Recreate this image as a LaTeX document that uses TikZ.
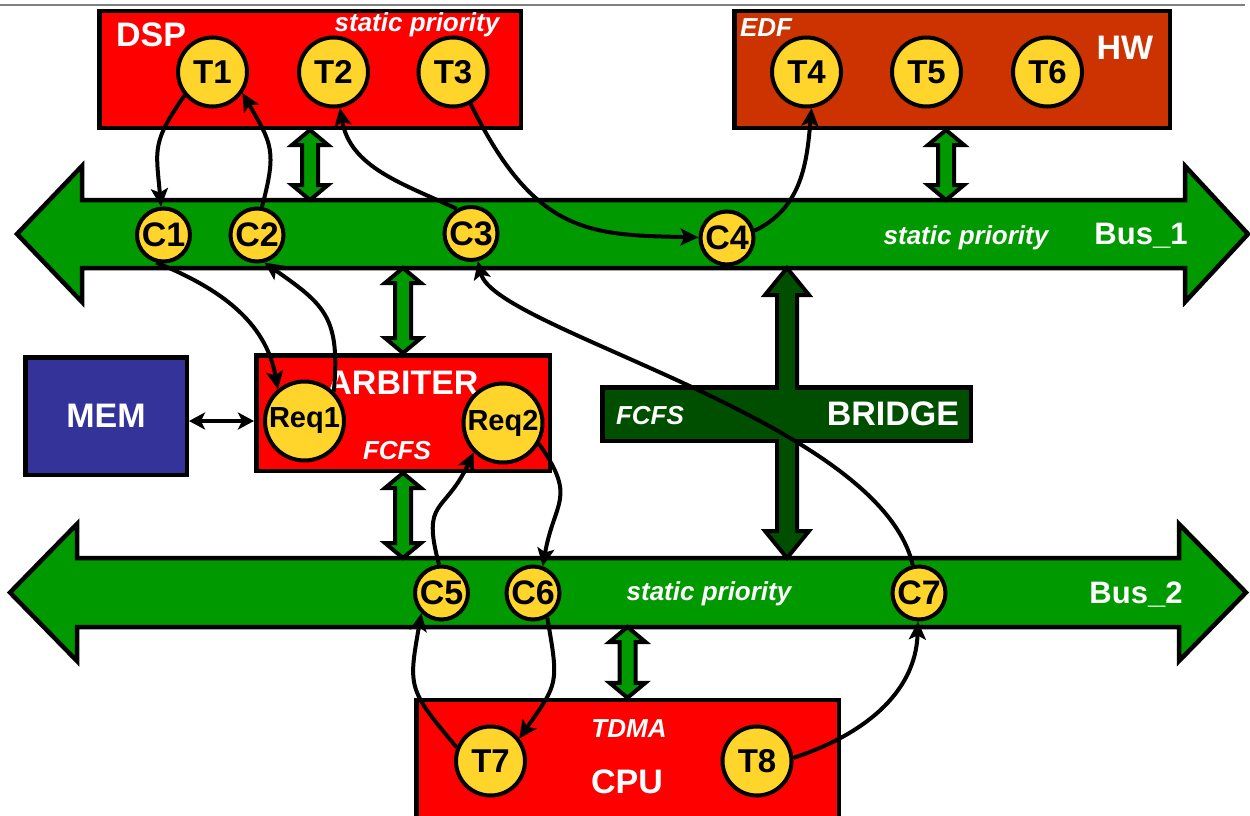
\documentclass[tikz,border=0pt]{standalone}
\usepackage{fontspec}
\setmainfont{Liberation Sans}
\usetikzlibrary{arrows.meta,shapes.geometric,calc}

\definecolor{taskyellow}{HTML}{FFD52B}
\definecolor{unitred}{HTML}{FF0000}
\definecolor{hwred}{HTML}{CC3300}
\definecolor{busgreen}{HTML}{009900}
\definecolor{bridgegreen}{HTML}{004F00}
\definecolor{memblue}{HTML}{333399}

% two-headed block arrow from #2 (top) down to #3 (bottom)
% #1 style, #4 half shaft width, #5 half head width, #6 head length
\newcommand{\vlink}[6]{%
  \draw[#1] (#2) -- ++(#5,#6) -- ++({#4-#5},0) -- ($(#3)+(#4,-#6)$)
    -- ++({#5-#4},0) -- (#3) -- ++(-#5,-#6) -- ++({#5-#4},0)
    -- ($(#2)+(-#4,#6)$) -- ++({#4-#5},0) -- cycle;}

\begin{document}
\begin{tikzpicture}[x=1pt, y=-1pt,
    unit/.style={draw, rectangle, line width=4.5pt, inner sep=0pt},
    task/.style={draw, circle, line width=4pt, fill=taskyellow, minimum size=69pt, inner sep=0pt, font=\fontsize{33}{33}\selectfont\bfseries},
    chan/.style={task, minimum size=53pt, font=\fontsize{34}{34}\selectfont\bfseries},
    req/.style={task, minimum size=79pt, font=\fontsize{29}{29}\selectfont\bfseries},
    unitname/.style={text=white, inner sep=0pt, font=\fontsize{34}{34}\selectfont\bfseries},
    busname/.style={text=white, inner sep=0pt, font=\fontsize{31}{31}\selectfont\bfseries},
    policy/.style={text=white, inner sep=0pt, font=\fontsize{26}{26}\selectfont\bfseries\itshape},
    busbody/.style={rectangle, inner sep=0pt, outer sep=0pt},
    busline/.style={draw, line width=4.5pt, fill=busgreen},
    link/.style={draw, line width=4pt, fill=busgreen},
    bridgelink/.style={draw, line width=4pt, fill=bridgegreen},
    arr/.style={draw, line width=4pt, -{Stealth[length=18pt,width=17pt,inset=4pt]}},
    memarr/.style={draw, line width=4pt, {Stealth[length=16pt,width=17pt,inset=4pt]}-{Stealth[length=16pt,width=17pt,inset=4pt]}}]

  \useasboundingbox (0,0) rectangle (1250,816);
  \clip (0,0) rectangle (1250,816);
  \draw[gray, line width=1.5pt] (0,5) -- (1245,5);

  % buses
  \node[busbody, minimum width=1103pt, minimum height=68pt] (bus1) at (633.5,234) {};
  \node[busbody, minimum width=1102pt, minimum height=69pt] (bus2) at (628,592.5) {};
  \draw[busline] (bus1.north west) -- (bus1.north east) -- ++(0,-34) -- ([xshift=63pt]bus1.east)
    -- ([yshift=-34pt]bus1.south east) -- (bus1.south east) -- (bus1.south west) -- ++(0,34)
    -- ([xshift=-65pt]bus1.west) -- ([yshift=34pt]bus1.north west) -- cycle;
  \draw[busline] (bus2.north west) -- (bus2.north east) -- ++(0,-34) -- ([xshift=67pt]bus2.east)
    -- ([yshift=-34pt]bus2.south east) -- (bus2.south east) -- (bus2.south west) -- ++(0,34)
    -- ([xshift=-67pt]bus2.west) -- ([yshift=34pt]bus2.north west) -- cycle;

  % bridge arrow between the buses
  \coordinate (brx) at (787,0);
  \vlink{bridgelink}{brx |- bus1.south}{brx |- bus2.north}{10}{22}{27}

  % processing units
  \node[unit, fill=unitred, minimum width=421.5pt, minimum height=116.5pt] (dsp) at (310,69.5) {};
  \node[unit, fill=hwred, minimum width=435.5pt, minimum height=116.5pt] (hw) at (952,69.5) {};
  \node[unit, fill=memblue, minimum width=161.5pt, minimum height=117.5pt] (mem) at (106,416) {};
  \node[unit, fill=unitred, minimum width=293.5pt, minimum height=115.5pt] (arbiter) at (403,413) {};
  \node[unit, fill=bridgegreen, minimum width=368.5pt, minimum height=53.5pt] (bridge) at (786.5,414) {};
  \node[unit, fill=unitred, minimum width=422.5pt, minimum height=140pt] (cpu) at (627.5,770) {};
  \fill[bridgegreen] ($(brx |- bridge.north)+(-8,-2)$) rectangle ($(brx |- bridge.south)+(8,2)$);

  % bus links
  \coordinate (hwlink) at ([xshift=-6pt]hw.south);
  \vlink{link}{dsp.south}{dsp.south |- bus1.north}{8}{18}{15}
  \vlink{link}{hwlink}{hwlink |- bus1.north}{8}{18}{15}
  \vlink{link}{arbiter.north |- bus1.south}{arbiter.north}{8}{18}{15}
  \vlink{link}{arbiter.south}{arbiter.south |- bus2.north}{8}{18}{15}
  \vlink{link}{cpu.north |- bus2.south}{cpu.north}{8}{18}{15}

  % names and policies
  \node[unitname] (dspname) at (151,35) {DSP};
  \node[policy] (dsppol) at (417,25) {static priority};
  \node[policy] (hwpol) at (766,28) {EDF};
  \node[unitname] (hwname) at (1125,48) {HW};
  \node[unitname] (memname) at (106,416) {MEM};
  \node[unitname] (arbname) at (403,383) {ARBITER};
  \node[policy] (arbpol) at (397,451) {FCFS};
  \node[policy] (brpol) at (650,416) {FCFS};
  \node[unitname] (brname) at (893,414) {BRIDGE};
  \node[policy] (cpupol) at (629,729) {TDMA};
  \node[unitname] (cpuname) at (627,782) {CPU};
  \node[busname] (bus1name) at (1141,236) {Bus\_1};
  \node[policy] (bus1pol) at (966,238) {static priority};
  \node[busname] (bus2name) at (1136,595) {Bus\_2};
  \node[policy] (bus2pol) at (709,594) {static priority};

  % tasks
  \node[task] (t1) at (212.5,72) {T1};
  \node[task] (t2) at (333.5,72) {T2};
  \node[task] (t3) at (453,72) {T3};
  \node[task] (t4) at (806.5,72) {T4};
  \node[task] (t5) at (926.5,72) {T5};
  \node[task] (t6) at (1047.5,72) {T6};
  \node[task] (t7) at (490.5,761) {T7};
  \node[task] (t8) at (757,761) {T8};

  % communication tasks
  \node[chan] (c1) at (163.5,235) {C1};
  \node[chan] (c2) at (257,235) {C2};
  \node[chan] (c3) at (471,233.5) {C3};
  \node[chan] (c4) at (727,238) {C4};
  \node[chan] (c5) at (441.5,593) {C5};
  \node[chan] (c6) at (533,593) {C6};
  \node[chan] (c7) at (919,593) {C7};

  % arbiter requests
  \node[req] (req1) at (304.5,421) {Req1};
  \node[req] (req2) at (503,423) {Req2};

  \draw[arr] (t1.-140) to[out=-125, in=95, looseness=1.3] (c1);
  \draw[arr] (c2.80) to[out=75, in=-60, looseness=1.3] (t1.-35);
  \draw[arr] (c3.120) to[out=155, in=-80] (t2);
  \draw[arr] (t3.-61) .. controls (535,235) and (590,235) .. (c4);
  \draw[arr] (c4.15) to[out=25, in=-95] (t4.-82);

  \draw[arr] (c1.-105) to[out=-22, in=100] (req1.130);
  \draw[arr] (req1.45) to[out=85, in=-35, looseness=1.3] (c2.-75);
  \draw[arr] (c7) .. controls (880,420) and (495,330) .. (c3);

  \draw[arr] (c5.95) to[out=105, in=-115, looseness=1.5] (req2.-135);
  \draw[arr] (req2.-30) to[out=-55, in=80, looseness=1.4] (c6.70);
  \draw[arr] (t7.158) to[out=130, in=-100, looseness=1.4] (c5.-135);
  \draw[arr] (c6.-60) to[out=-80, in=55, looseness=1.4] (t7.38);
  \draw[arr] (t8.5) to[out=18, in=-92] (c7);

  \draw[memarr] ([yshift=-5pt]mem.east) -- ([yshift=-5pt]mem.east -| arbiter.west);
\end{tikzpicture}
\end{document}
